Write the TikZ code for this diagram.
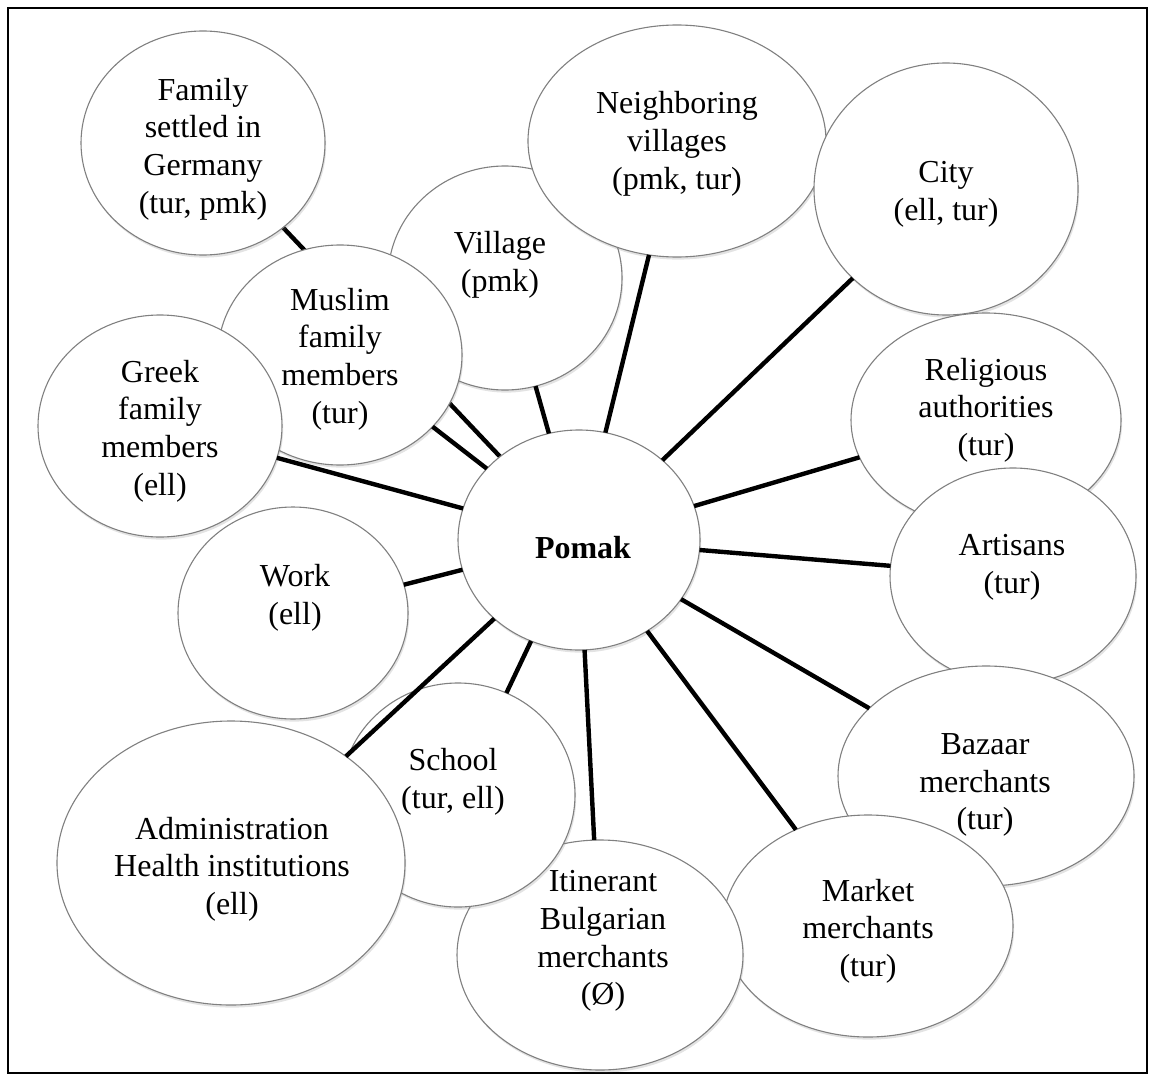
\documentclass[tikz,border=0pt]{standalone}
\usepackage{fontspec}
\setmainfont{Liberation Serif}
\usetikzlibrary{shapes.geometric,shadows,backgrounds}
\begin{document}
\begin{tikzpicture}[x=0.5pt,y=-0.5pt,
  bub/.style={ellipse, draw=black!50, line width=0.55pt, fill=white, inner sep=0pt, outer sep=0pt,
    drop shadow={shadow xshift=0.6pt,shadow yshift=-1.3pt,opacity=0.22}},
  txt/.style={align=center, font=\fontsize{16}{18.85}\selectfont, inner sep=0pt, yshift=-1.5pt},
  link/.style={line width=2.2pt, black}]
\useasboundingbox (0,0) rectangle (1155,1081);
\draw[line width=1.3pt] (8,8) rectangle (1147,1073);

% bubbles, bottom to top
\node[bub, minimum width=117pt, minimum height=112pt] (vil) at (505,278) {};
\node[txt] (vil-t) at (500,262) {Village\\(pmk)};

\node[bub, minimum width=149pt, minimum height=116pt] (nei) at (677,141) {};
\node[txt] (nei-t) at (677,141) {Neighboring\\villages\\(pmk, tur)};

\node[bub, minimum width=132pt, minimum height=126pt] (city) at (946,189) {};
\node[txt] (city-t) at (946,191) {City\\(ell, tur)};

\node[bub, minimum width=135pt, minimum height=107pt] (rel) at (986,420) {};
\node[txt] (rel-t) at (986,407) {Religious\\authorities\\(tur)};

\node[bub, minimum width=123pt, minimum height=108pt] (art) at (1013,576) {};
\node[txt] (art-t) at (1012,564) {Artisans\\(tur)};

\node[bub, minimum width=148pt, minimum height=110pt] (baz) at (986,776) {};
\node[txt] (baz-t) at (985,782) {Bazaar\\merchants\\(tur)};

\node[bub, minimum width=145pt, minimum height=111pt] (mkt) at (868,926) {};
\node[txt] (mkt-t) at (868,928) {Market\\merchants\\(tur)};

\node[bub, minimum width=143pt, minimum height=115pt] (iti) at (600,955) {};
\node[txt] (iti-t) at (603,938) {Itinerant\\Bulgarian\\merchants\\(Ø)};

\node[bub, minimum width=117pt, minimum height=112pt] (sch) at (458,795) {};
\node[txt] (sch-t) at (453,779) {School\\(tur, ell)};

\node[bub, minimum width=174pt, minimum height=142pt] (adm) at (231,863) {};
\node[txt] (adm-t) at (232,866) {Administration\\Health institutions\\(ell)};

\node[bub, minimum width=115pt, minimum height=106pt] (work) at (293,613) {};
\node[txt] (work-t) at (295,595) {Work\\(ell)};

\node[bub, minimum width=122pt, minimum height=110pt] (mus) at (340,355) {};
\node[txt] (mus-t) at (340,356) {Muslim\\family\\members\\(tur)};

\node[bub, minimum width=122pt, minimum height=111pt] (gre) at (160,426) {};
\node[txt] (gre-t) at (160,428) {Greek\\family\\members\\(ell)};

\node[bub, minimum width=122pt, minimum height=112pt] (fam) at (203,143) {};
\node[txt] (fam-t) at (203,146) {Family\\settled in\\Germany\\(tur, pmk)};

\node[bub, minimum width=121pt, minimum height=110pt] (pom) at (579,540) {};
\node[txt] (pom-t) at (583,545) {\textbf{Pomak}};

% connector hidden under the Muslim bubble
\begin{scope}[on background layer]
\draw[link] (pom) -- (fam);
\end{scope}

% connectors
\foreach \t in {vil,nei,city,rel,art,baz,mkt,iti,sch,adm,work,mus,gre}
  \draw[link] (pom) -- (\t);
\end{tikzpicture}
\end{document}
